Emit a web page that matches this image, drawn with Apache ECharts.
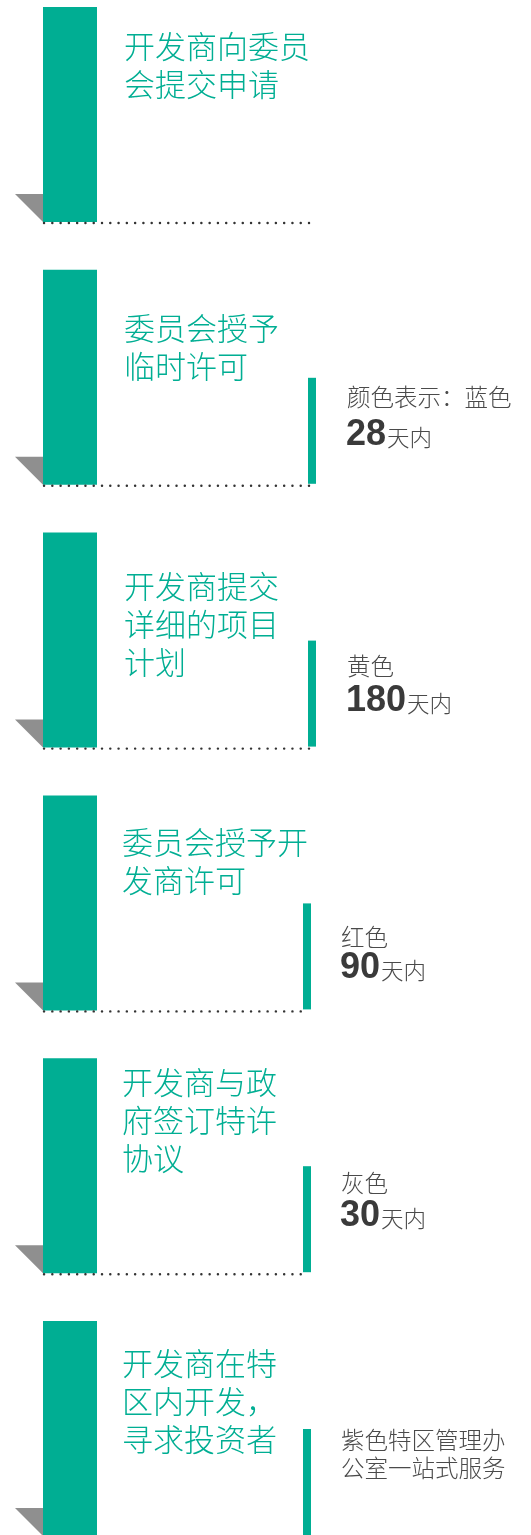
<!DOCTYPE html>
<html>
<head>
<meta charset="utf-8">
<script src="https://cdn.jsdelivr.net/npm/echarts@6/dist/echarts.min.js"></script>
<style>
html,body{margin:0;padding:0;background:#fff;}
#chart{width:531px;height:1535px;}
</style>
</head>
<body>
<div id="chart"></div>
<script>
// ---- data ----
const stepTitles = [
  '开发商向委员\n会提交申请',
  '委员会授予\n临时许可',
  '开发商提交\n详细的项目\n计划',
  '委员会授予开\n发商许可',
  '开发商与政\n府签订特许\n协议',
  '开发商在特\n区内开发，\n寻求投资者'
];
const colorLabels = ['', '颜色表示：蓝色', '黄色', '红色', '灰色', '紫色特区管理办\n公室一站式服务'];
const dayLimits = [null, 28, 180, 90, 30, null];
const dayUnit = '天内';

// ---- layout (pixel offsets from each step's top) ----
const titleMid = [39, 58, 54, 47, 24, 42];
const labelMid = [0, 127, 133, 142, 125, 119];
const numMid = [0, 165, 168, 172.5, 157.5, 0];
const colShift = [0, 0, 0, -5, -5, -5];

const GREEN = '#00ae93';
const CJK = '"Noto Sans CJK SC","Noto Sans",sans-serif';
const NUM_FONT = 'bold 36px "Liberation Sans",Arial,sans-serif';

const measureCtx = document.createElement('canvas').getContext('2d');
function textWidth(str, font) { measureCtx.font = font; return measureCtx.measureText(str).width; }

const chart = echarts.init(document.getElementById('chart'), null, {renderer: 'canvas'});

function renderItem(params, api) {
  const i = api.value(1);
  const top = api.coord([0, i])[1];
  const s = colShift[i];
  const children = [
    {type: 'polygon', shape: {points: [[15, top + 187], [43, top + 187], [43, top + 215]]}, style: {fill: '#8f8f8f'}},
    {type: 'rect', shape: {x: 43, y: top, width: 54, height: 215}, style: {fill: GREEN}},
    {type: 'line', shape: {x1: 44, y1: top + 216, x2: 311 + s, y2: top + 216},
      style: {stroke: '#333333', lineWidth: 2.4, lineCap: 'round', lineDash: [0.1, 8.18]}},
    {type: 'text', style: {x: 124 + (s ? -2 : 0), y: top + titleMid[i] - 19, text: stepTitles[i],
      fill: GREEN, font: '300 31px ' + CJK, lineHeight: 38, verticalAlign: 'top', align: 'left'}}
  ];
  if (colorLabels[i]) {
    children.push({type: 'rect', shape: {x: 308 + s, y: top + 108, width: 8, height: 106}, style: {fill: GREEN}});
    children.push({type: 'text', style: {x: 347 + (s ? -6 : 0), y: top + labelMid[i] - 14, text: colorLabels[i],
      fill: '#4a4a4a', font: '300 23.5px ' + CJK, lineHeight: 28, verticalAlign: 'top', align: 'left'}});
  }
  if (dayLimits[i] != null) {
    const nx = 346 + (s ? -6 : 0);
    const numStr = String(dayLimits[i]);
    const w = textWidth(numStr, NUM_FONT);
    children.push({type: 'text', style: {x: nx, y: top + numMid[i], text: numStr,
      font: NUM_FONT, fill: '#3a3a3a', verticalAlign: 'middle', align: 'left'}});
    children.push({type: 'text', style: {x: nx + w + 1, y: top + numMid[i] + 2.5, text: dayUnit,
      font: '300 22.5px ' + CJK, fill: '#4a4a4a', verticalAlign: 'middle', align: 'left'}});
  }
  return {type: 'group', children: children};
}

chart.setOption({
  animation: false,
  grid: {left: 0, right: 0, top: 7, bottom: 214},
  xAxis: {type: 'value', min: 0, max: 531, show: false},
  yAxis: {type: 'category', data: stepTitles, inverse: true, boundaryGap: false, show: false},
  series: [{
    type: 'custom',
    clip: false,
    renderItem: renderItem,
    data: stepTitles.map((t, i) => [0, i])
  }]
});
</script>
</body>
</html>
